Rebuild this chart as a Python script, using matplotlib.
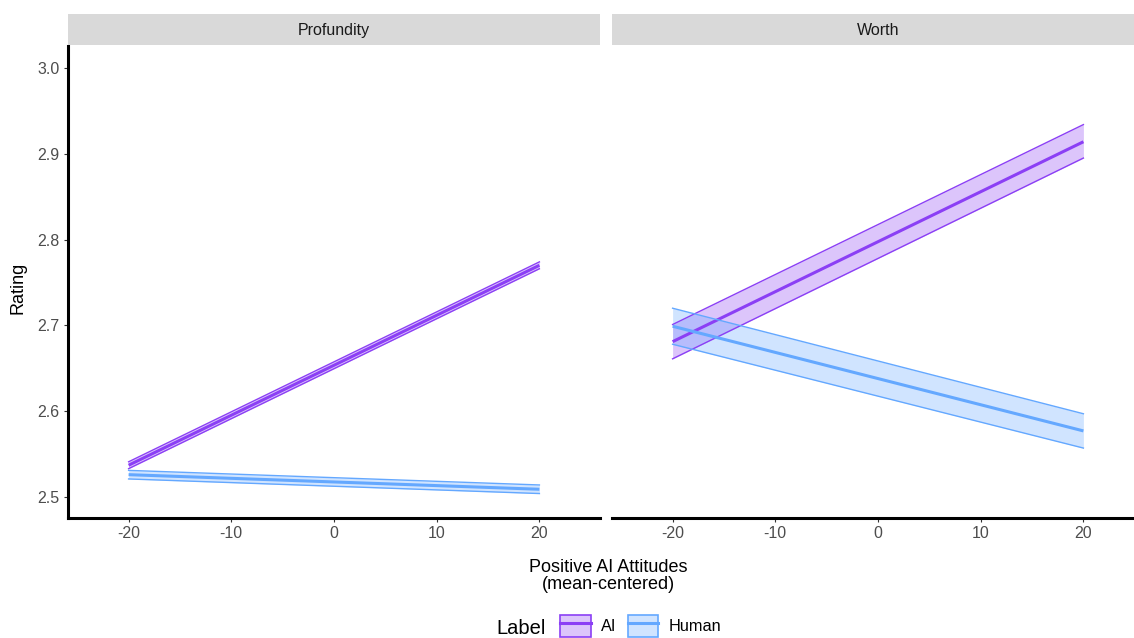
import matplotlib.pyplot as plt
from matplotlib.patches import Patch
from matplotlib.lines import Line2D
from matplotlib.legend_handler import HandlerTuple

plt.rcParams['font.family'] = ['Liberation Sans', 'DejaVu Sans']

# predicted rating at the two ends of the attitude range
attitude = [-20, 20]
panels = ["Profundity", "Worth"]
labels = ["AI", "Human"]

fit = {
    ("Profundity", "AI"): [2.537, 2.770],
    ("Profundity", "Human"): [2.526, 2.509],
    ("Worth", "AI"): [2.681, 2.914],
    ("Worth", "Human"): [2.699, 2.577],
}
lower = {
    ("Profundity", "AI"): [2.533, 2.766],
    ("Profundity", "Human"): [2.521, 2.504],
    ("Worth", "AI"): [2.661, 2.895],
    ("Worth", "Human"): [2.678, 2.557],
}
upper = {
    ("Profundity", "AI"): [2.541, 2.774],
    ("Profundity", "Human"): [2.531, 2.514],
    ("Worth", "AI"): [2.701, 2.934],
    ("Worth", "Human"): [2.720, 2.597],
}

colors = {"AI": "#8B3FF5", "Human": "#64A8FF"}
yticks = [2.5, 2.6, 2.7, 2.8, 2.9, 3.0]
xticks = [-20, -10, 0, 10, 20]

W, H = 1134, 638
fig = plt.figure(figsize=(W / 100, H / 100), dpi=100)


def px(x0, y0, x1, y1):
    return [x0 / W, 1 - y1 / H, (x1 - x0) / W, (y1 - y0) / H]


panel_x = [68, 612]
pw = 532
for i, name in enumerate(panels):
    x0 = panel_x[i]
    ax = fig.add_axes(px(x0, 46, x0 + pw, 518))
    for lab in labels:
        c = colors[lab]
        lo, hi = lower[(name, lab)], upper[(name, lab)]
        ax.fill_between(attitude, lo, hi, color=c, alpha=0.3, lw=0)
        ax.plot(attitude, lo, color=c, lw=1.0)
        ax.plot(attitude, hi, color=c, lw=1.0)
        ax.plot(attitude, fit[(name, lab)], color=c, lw=2.2, solid_capstyle="butt")
    ax.set_xlim(-25.9, 25.9)
    ax.set_ylim(2.4755, 3.0256)
    ax.set_xticks(xticks)
    ax.set_xticklabels([str(t) for t in xticks])
    ax.set_yticks(yticks)
    ax.set_yticklabels([f"{t:.1f}" for t in yticks])
    for s in ["top", "right"]:
        ax.spines[s].set_visible(False)
    ax.spines["bottom"].set_linewidth(2.2)
    ax.spines["left"].set_linewidth(2.2)
    ax.tick_params(length=3, width=0.8, color="#333333", labelcolor="#4d4d4d",
                   labelsize=11.5, pad=3)
    if i == 1:
        ax.spines["left"].set_visible(False)
        ax.tick_params(axis="y", left=False, labelleft=False)

    strip = fig.add_axes(px(x0, 14, x0 + pw, 45))
    strip.set_facecolor("#d9d9d9")
    strip.set_xticks([])
    strip.set_yticks([])
    for s in strip.spines.values():
        s.set_visible(False)
    strip.text(0.5, 0.48, name, ha="center", va="center", fontsize=11.5,
               color="#1a1a1a", transform=strip.transAxes)

fig.text(608 / W, 1 - 576 / H, "Positive AI Attitudes\n(mean-centered)",
         ha="center", va="center", fontsize=13, linespacing=1.05)
fig.text(18 / W, 1 - 288 / H, "Rating", ha="center", va="center",
         rotation=90, fontsize=13)

fig.text(521 / W, 1 - 628 / H, "Label", ha="center", va="center", fontsize=14.5)
handles = []
for lab in labels:
    c = colors[lab]
    handles.append((Patch(facecolor=c, alpha=0.3, edgecolor="none"),
                    Patch(facecolor="none", edgecolor=c, lw=1.2),
                    Line2D([], [], color=c, lw=2.2)))
fig.legend(handles, labels, loc="center left", bbox_to_anchor=(552 / W, 1 - 626 / H),
           ncol=2, frameon=False, fontsize=11.7, handlelength=1.9, handleheight=1.8,
           handletextpad=0.6, columnspacing=0.7, borderpad=0,
           handler_map={tuple: HandlerTuple(ndivide=1)})

fig.savefig("out.png", dpi=100)
